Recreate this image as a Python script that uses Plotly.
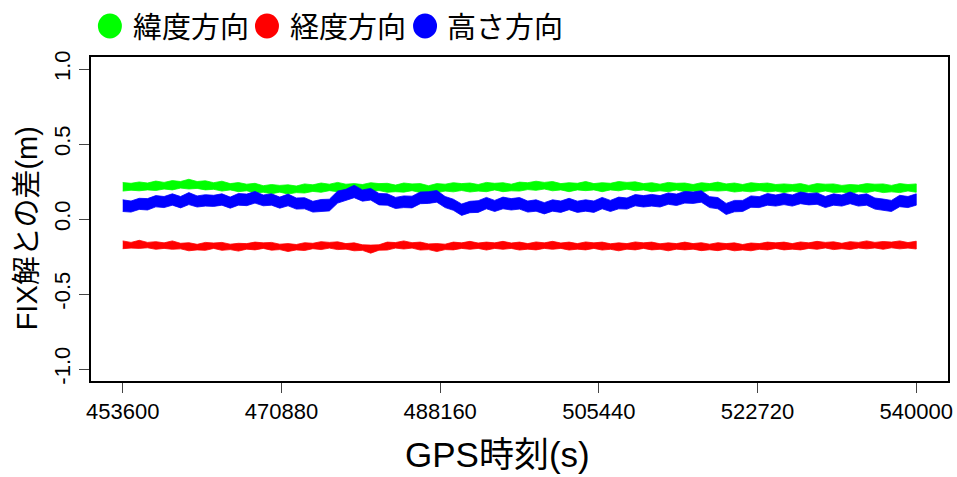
import plotly.graph_objects as go

# ---------------- data ----------------
t_start = 453600
t_step = 900
n_pts = 97
gps_time = [t_start + t_step * i for i in range(n_pts)]

x_ticks = [453600, 470880, 488160, 505440, 522720, 540000]
y_ticks = [-1.0, -0.5, 0.0, 0.5, 1.0]
y_ticktext = ["-1.0", "-0.5", "0.0", "0.5", "1.0"]

series_names = ["緯度方向", "経度方向", "高さ方向"]
series_colors = ["#00FF00", "#FF0000", "#0000FF"]

lat_upper = [0.243, 0.238, 0.247, 0.24, 0.253, 0.244, 0.256, 0.25, 0.265, 0.25, 0.255,
             0.242, 0.252, 0.236, 0.243, 0.232, 0.238, 0.222, 0.23, 0.224, 0.228, 0.22, 0.234,
             0.228, 0.24, 0.232, 0.244, 0.232, 0.236, 0.23, 0.242,
             0.236, 0.238, 0.226, 0.24, 0.234, 0.236, 0.222, 0.236, 0.232, 0.242,
             0.236, 0.24, 0.23, 0.244, 0.238, 0.242, 0.232, 0.246, 0.242, 0.252,
             0.244, 0.25, 0.236, 0.242, 0.238, 0.25, 0.236, 0.242, 0.238, 0.25,
             0.244, 0.248, 0.236, 0.242, 0.232, 0.244, 0.238, 0.24, 0.23, 0.242,
             0.236, 0.246, 0.234, 0.24, 0.23, 0.242, 0.236, 0.24, 0.23, 0.234,
             0.23, 0.236, 0.224, 0.236, 0.232, 0.234, 0.224, 0.23, 0.226, 0.236,
             0.232, 0.234, 0.224, 0.236, 0.23, 0.234]
lat_lower = [0.186, 0.192, 0.188, 0.194, 0.19, 0.2, 0.194, 0.206, 0.2, 0.204, 0.194,
             0.198, 0.186, 0.194, 0.182, 0.188, 0.174, 0.178, 0.168, 0.179, 0.166, 0.176, 0.173,
             0.184, 0.178, 0.189, 0.182, 0.188, 0.174, 0.186, 0.181,
             0.19, 0.178, 0.182, 0.179, 0.189, 0.176, 0.179, 0.176, 0.186, 0.181,
             0.19, 0.18, 0.186, 0.182, 0.194, 0.182, 0.188, 0.186, 0.196, 0.191,
             0.2, 0.188, 0.194, 0.182, 0.194, 0.189, 0.194, 0.182, 0.194, 0.188,
             0.199, 0.188, 0.194, 0.182, 0.188, 0.182, 0.194, 0.181, 0.186, 0.181,
             0.19, 0.186, 0.19, 0.18, 0.186, 0.181, 0.19, 0.18, 0.186, 0.176,
             0.186, 0.176, 0.181, 0.176, 0.187, 0.176, 0.18, 0.171, 0.182, 0.176,
             0.187, 0.176, 0.181, 0.176, 0.187, 0.178]

lon_upper = [-0.146, -0.156, -0.142, -0.156, -0.151, -0.159, -0.146, -0.162, -0.158, -0.169, -0.156,
             -0.16, -0.156, -0.168, -0.162, -0.164, -0.154, -0.159, -0.156, -0.168, -0.164, -0.17, -0.158,
             -0.162, -0.151, -0.156, -0.152, -0.164, -0.159, -0.172, -0.174,
             -0.172, -0.154, -0.157, -0.146, -0.158, -0.154, -0.166, -0.164, -0.168, -0.154,
             -0.159, -0.149, -0.16, -0.154, -0.159, -0.149, -0.16, -0.154, -0.164, -0.153,
             -0.159, -0.149, -0.16, -0.154, -0.164, -0.153, -0.159, -0.154, -0.165, -0.159,
             -0.164, -0.153, -0.159, -0.154, -0.165, -0.159, -0.164, -0.154, -0.164, -0.158,
             -0.168, -0.158, -0.164, -0.159, -0.17, -0.16, -0.164, -0.154, -0.159, -0.154,
             -0.164, -0.153, -0.159, -0.149, -0.156, -0.152, -0.162, -0.151, -0.156, -0.146,
             -0.156, -0.15, -0.154, -0.146, -0.157, -0.148]
lon_lower = [-0.198, -0.194, -0.196, -0.192, -0.202, -0.196, -0.202, -0.199, -0.212, -0.206, -0.209,
             -0.196, -0.209, -0.204, -0.214, -0.201, -0.206, -0.196, -0.208, -0.204, -0.217, -0.206, -0.21,
             -0.198, -0.204, -0.194, -0.204, -0.201, -0.212, -0.209, -0.228,
             -0.208, -0.207, -0.194, -0.2, -0.194, -0.207, -0.204, -0.217, -0.204, -0.206,
             -0.196, -0.202, -0.196, -0.207, -0.196, -0.202, -0.196, -0.207, -0.201, -0.206,
             -0.196, -0.202, -0.196, -0.207, -0.201, -0.206, -0.196, -0.207, -0.202, -0.212,
             -0.201, -0.206, -0.196, -0.206, -0.202, -0.212, -0.201, -0.206, -0.201, -0.211,
             -0.205, -0.211, -0.201, -0.212, -0.206, -0.212, -0.202, -0.206, -0.196, -0.206,
             -0.201, -0.206, -0.196, -0.202, -0.193, -0.204, -0.198, -0.204, -0.193, -0.199,
             -0.193, -0.202, -0.192, -0.199, -0.194, -0.2]

hgt_upper = [0.128, 0.12, 0.138, 0.136, 0.156, 0.15, 0.168, 0.15, 0.176, 0.154, 0.162,
             0.158, 0.168, 0.146, 0.17, 0.166, 0.184, 0.16, 0.168, 0.146, 0.166, 0.14, 0.142,
             0.118, 0.13, 0.132, 0.186, 0.198, 0.225, 0.194, 0.204,
             0.17, 0.168, 0.144, 0.154, 0.152, 0.18, 0.182, 0.19, 0.15, 0.132,
             0.1, 0.118, 0.122, 0.144, 0.124, 0.146, 0.136, 0.143, 0.12, 0.128,
             0.109, 0.128, 0.12, 0.138, 0.119, 0.128, 0.12, 0.144, 0.124, 0.146,
             0.14, 0.163, 0.156, 0.164, 0.156, 0.174, 0.166, 0.184, 0.18, 0.188,
             0.149, 0.143, 0.104, 0.124, 0.124, 0.154, 0.149, 0.17, 0.16, 0.171,
             0.16, 0.18, 0.17, 0.174, 0.15, 0.168, 0.16, 0.18, 0.16, 0.168,
             0.14, 0.133, 0.124, 0.158, 0.15, 0.168]
hgt_lower = [0.05, 0.046, 0.064, 0.06, 0.081, 0.076, 0.092, 0.074, 0.096, 0.08, 0.086,
             0.084, 0.092, 0.072, 0.092, 0.089, 0.106, 0.088, 0.092, 0.072, 0.088, 0.066, 0.068,
             0.046, 0.052, 0.054, 0.106, 0.124, 0.142, 0.119, 0.126,
             0.094, 0.092, 0.07, 0.076, 0.074, 0.102, 0.104, 0.112, 0.076, 0.058,
             0.024, 0.042, 0.044, 0.068, 0.05, 0.068, 0.06, 0.066, 0.046, 0.052,
             0.034, 0.052, 0.044, 0.062, 0.044, 0.052, 0.044, 0.068, 0.05, 0.068,
             0.066, 0.088, 0.08, 0.086, 0.08, 0.098, 0.09, 0.106, 0.104, 0.112,
             0.076, 0.068, 0.03, 0.048, 0.05, 0.078, 0.076, 0.092, 0.086, 0.096,
             0.086, 0.102, 0.094, 0.098, 0.076, 0.092, 0.086, 0.102, 0.086, 0.092,
             0.066, 0.056, 0.05, 0.082, 0.076, 0.092]

bands = [(lat_upper, lat_lower), (lon_upper, lon_lower), (hgt_upper, hgt_lower)]

# ---------------- figure ----------------
FONT = "Liberation Sans, Arial, Noto Sans CJK JP, sans-serif"
W, H = 957, 477
L, R, T, B = 91, 4, 57, 96

fig = go.Figure()
for name, color, (up, lo) in zip(series_names, series_colors, bands):
    fig.add_trace(go.Scatter(
        x=gps_time + gps_time[::-1],
        y=up + lo[::-1],
        fill="toself", fillcolor=color,
        mode="lines", line=dict(color=color, width=0.8),
        name=name, hoverinfo="skip", showlegend=False,
    ))

fig.update_xaxes(
    range=[450144, 543456], tickvals=x_ticks, ticktext=[str(v) for v in x_ticks],
    ticks="outside", ticklen=10, tickwidth=1, tickcolor="#444",
    showline=True, mirror=True, linecolor="black", linewidth=2,
    showgrid=False, zeroline=False,
    tickfont=dict(family=FONT, size=22, color="black"),
)
fig.update_yaxes(
    range=[-1.08, 1.08], tickvals=y_ticks, ticktext=y_ticktext,
    ticks="outside", ticklen=10, tickwidth=1, tickcolor="#444",
    showline=True, mirror=True, linecolor="black", linewidth=2,
    showgrid=False, zeroline=False, tickangle=-90,
    tickfont=dict(family=FONT, size=22, color="black"),
)

pw, ph = W - L - R, H - T - B
def px2paper_x(px):
    return (px - L) / pw
def px2paper_y(py):
    return (H - B - py) / ph

annotations = [
    dict(text="GPS時刻(s)", x=px2paper_x(500), y=px2paper_y(455), xref="paper", yref="paper",
         xanchor="center", yanchor="middle", showarrow=False,
         font=dict(family=FONT, size=35, color="black")),
    dict(text="FIX解との差(m)", x=px2paper_x(27), y=px2paper_y(228), xref="paper", yref="paper",
         xanchor="center", yanchor="middle", showarrow=False, textangle=-90,
         font=dict(family=FONT, size=29, color="black")),
]
shapes = []
legend_circle_px = [110, 268, 427]
legend_text_px = [131, 289, 447]
for name, color, cx, tx in zip(series_names, series_colors, legend_circle_px, legend_text_px):
    shapes.append(dict(type="circle", xref="paper", yref="paper",
                       xsizemode="pixel", ysizemode="pixel",
                       xanchor=px2paper_x(cx), yanchor=px2paper_y(26),
                       x0=-12, x1=12, y0=-12.5, y1=12.5,
                       fillcolor=color, line=dict(color=color, width=0)))
    annotations.append(dict(text=name, x=px2paper_x(tx), y=px2paper_y(28), xref="paper", yref="paper",
                            xanchor="left", yanchor="middle", showarrow=False,
                            font=dict(family=FONT, size=29, color="black")))

fig.update_layout(
    width=W, height=H, margin=dict(l=L, r=R, t=T, b=B, pad=0),
    plot_bgcolor="white", paper_bgcolor="white",
    showlegend=False, annotations=annotations, shapes=shapes,
)

fig.write_html("out.html")
